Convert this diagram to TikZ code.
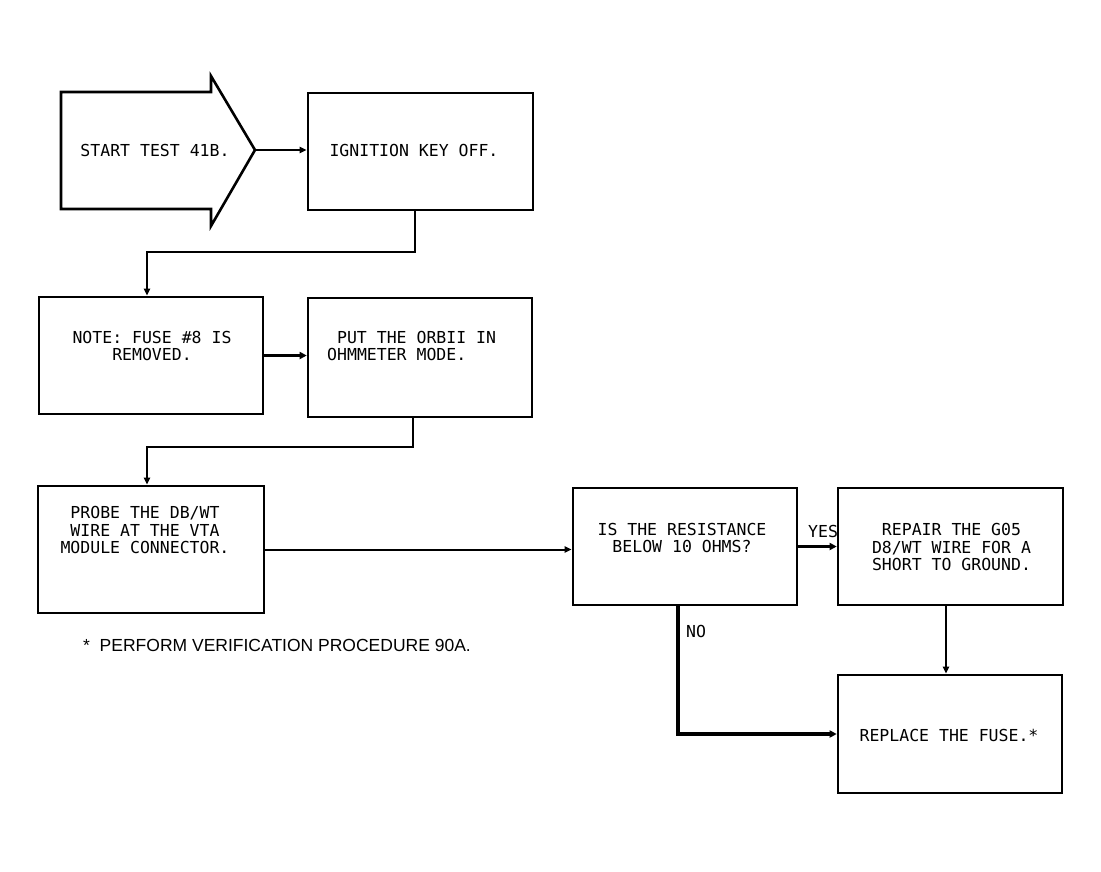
\documentclass[tikz,border=0pt]{standalone}
\usepackage{fontspec}
\setmonofont{DejaVu Sans Mono}
\setsansfont{Liberation Sans}
\usetikzlibrary{arrows.meta}
\begin{document}
\begin{tikzpicture}[x=1pt,y=-1pt,
  box/.style={draw, line width=2.6pt, inner sep=0pt},
  txt/.style={font=\ttfamily\fontsize{16.5}{17.5}\selectfont, align=center, inner sep=0pt},
  conn/.style={line width=2pt, -{Triangle[length=7pt,width=6pt]}},
  thickconn/.style={line width=3.5pt, -{Triangle[length=7pt,width=7pt]}},
  lbl/.style={font=\ttfamily\fontsize{16.5}{17.5}\selectfont, inner sep=0pt}]
\useasboundingbox (0,0) rectangle (1101,871);
% start arrow shape
\draw[line width=2.6pt, line join=miter]
  (61,92) -- (211,92) -- (211,76) -- (255,150) -- (211,226) -- (211,209) -- (61,209) -- cycle;
\coordinate (tip) at (255,150);
\node[txt] (startT) at (155,150) {START TEST 41B.};
% boxes
\node[box, minimum width=225pt, minimum height=117pt] (ign) at (420.5,151.5) {};
\node[txt] (ignT) at (414,150) {IGNITION KEY OFF.};
\node[box, minimum width=224pt, minimum height=117pt] (note) at (151,355.5) {};
\node[txt] (noteT) at (152,346) {NOTE: FUSE \#8 IS\\REMOVED.};
\node[box, minimum width=224pt, minimum height=119pt] (ohm) at (420,357.5) {};
\node[txt, align=left, anchor=west] (ohmT) at (327,346) {\hspace*{9.9pt}PUT THE ORBII IN\\OHMMETER MODE.};
\node[box, minimum width=226pt, minimum height=127pt] (probe) at (151,549.5) {};
\node[txt] (probeT) at (145,530) {PROBE THE DB/WT\\WIRE AT THE VTA\\MODULE CONNECTOR.};
\node[box, minimum width=224pt, minimum height=117pt] (dec) at (685,546.5) {};
\node[txt] (decT) at (682,538) {IS THE RESISTANCE\\BELOW 10 OHMS?};
\node[box, minimum width=225pt, minimum height=117pt] (rep) at (950.5,546.5) {};
\node[txt] (repT) at (951.5,547) {REPAIR THE G05\\D8/WT WIRE FOR A\\SHORT TO GROUND.};
\node[box, minimum width=224pt, minimum height=118pt] (repl) at (950,734) {};
\node[txt] (replT) at (949,735) {REPLACE THE FUSE.*};
% footnote
\node[font=\sffamily\fontsize{17.5}{19}\selectfont, anchor=west, inner sep=0pt] (foot) at (83,645) {*\ \ PERFORM VERIFICATION PROCEDURE 90A.};
% connectors
\draw[conn] (tip) -- (ign.west |- tip);
\draw[conn] ([xshift=-5.5pt]ign.south) |- (147,252) -- (note.north -| 147,0);
\draw[thickconn] (note.east) -- (ohm.west |- note.east);
\draw[conn] ([xshift=-7pt]ohm.south) |- (147,447) -- (probe.north -| 147,0);
\draw[conn] (probe.east) -- (dec.west |- probe.east);
\draw[thickconn] (dec.east) -- (rep.west |- dec.east);
\node[lbl, anchor=south west] (yes) at (808,538) {YES};
\draw[conn] ([xshift=-4.5pt]rep.south) coordinate (rs) -- (rs |- repl.north);
\draw[thickconn] ([xshift=-7pt]dec.south) |- (repl.west);
\node[lbl, anchor=north west] (no) at (686,625) {NO};
\end{tikzpicture}
\end{document}
